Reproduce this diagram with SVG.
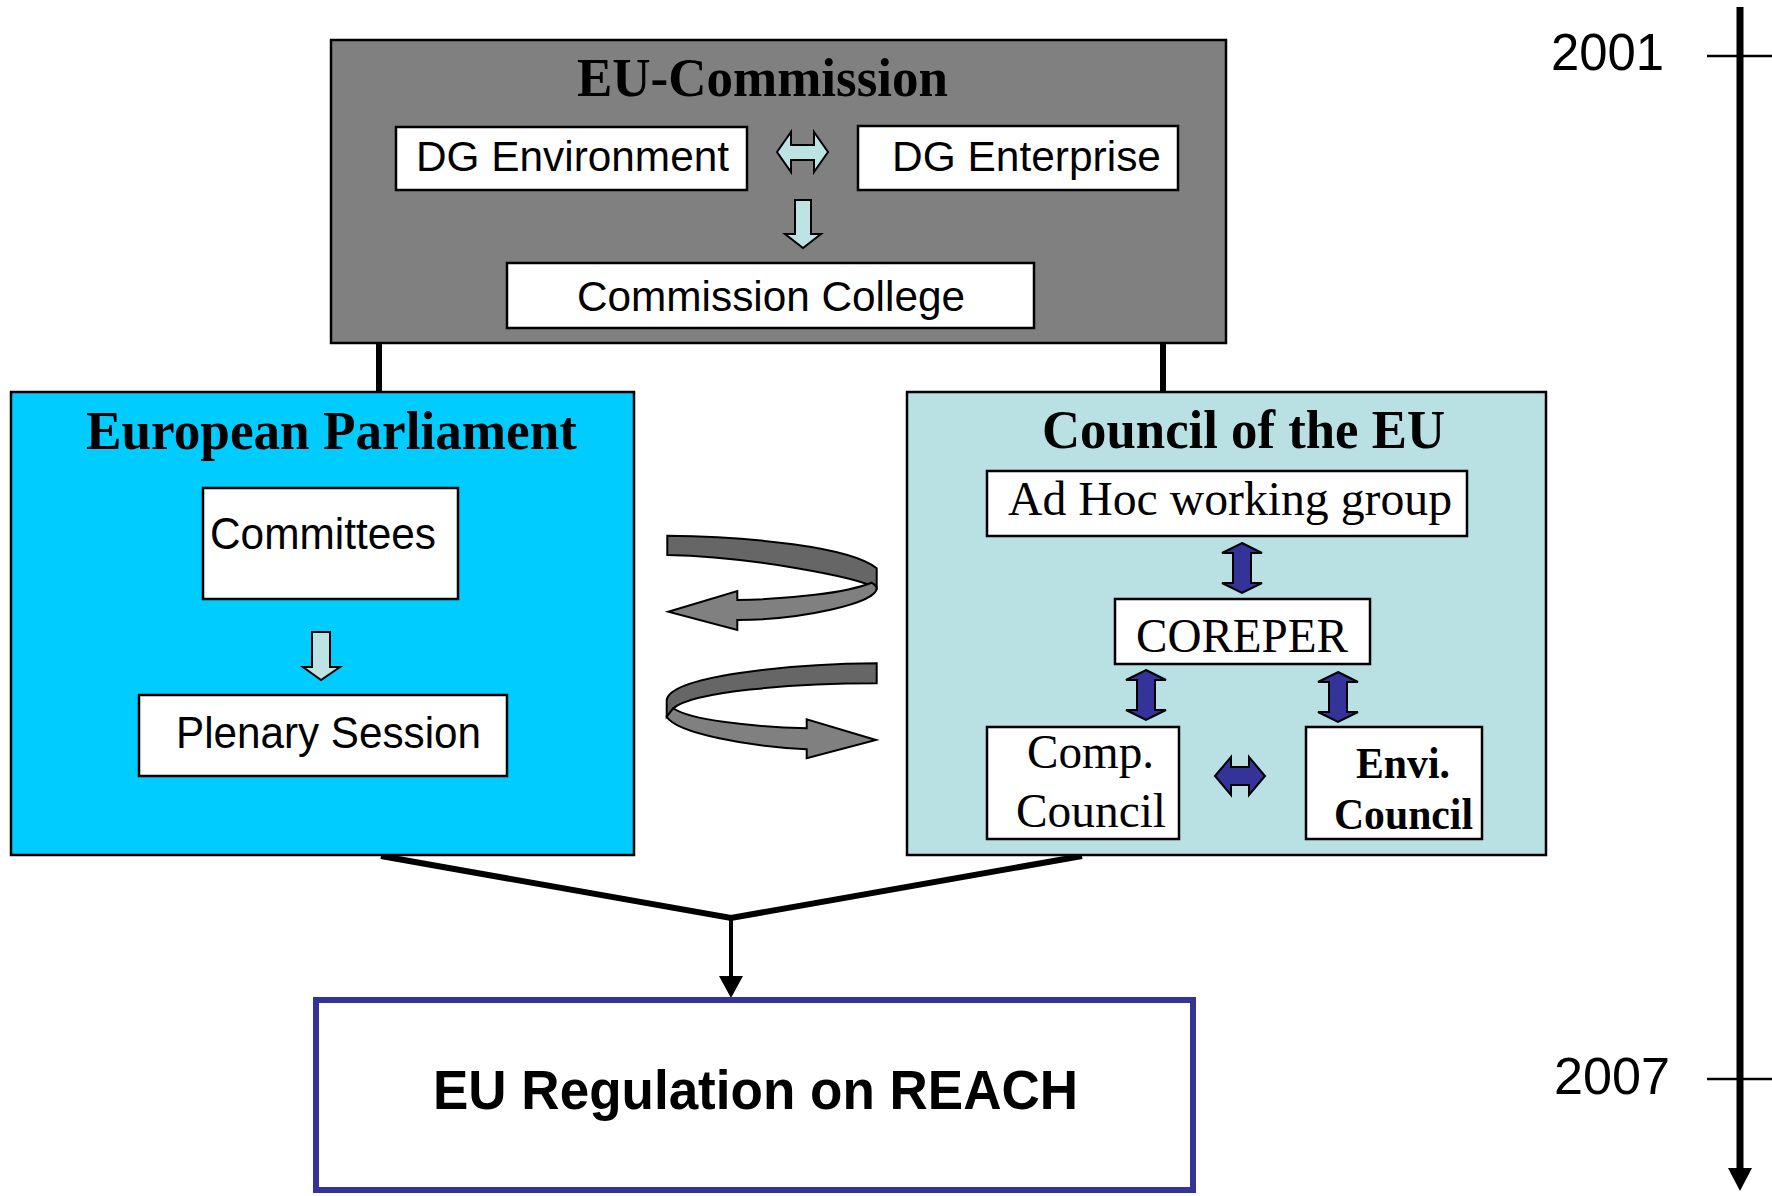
<svg xmlns="http://www.w3.org/2000/svg" width="1772" height="1196" viewBox="0 0 1772 1196">
<defs>
<style>
.box{fill:#ffffff;stroke:#000000;stroke-width:2.5}
.sans{font-family:"Liberation Sans",Arial,sans-serif;fill:#000}
.serif{font-family:"Liberation Serif","Times New Roman",serif;fill:#000}
.title{font-family:"Liberation Serif","Times New Roman",serif;font-weight:bold;font-size:54px;fill:#000}
.light{fill:#BDE3E5;stroke:#000;stroke-width:2}
.navy{fill:#333399;stroke:#000;stroke-width:2}
.line{stroke:#000;fill:none}
</style>
</defs>
<rect width="1772" height="1196" fill="#ffffff"/>

<g id="connectors">
<line class="line" x1="379" y1="343" x2="379" y2="392" stroke-width="6"/>
<line class="line" x1="1163" y1="343" x2="1163" y2="392" stroke-width="6"/>
<polyline class="line" points="381,856 731,918 1082,856" stroke-width="6" stroke-linejoin="miter"/>
<path d="M731,918 L731,978" stroke="#000" stroke-width="4" fill="none"/>
<path d="M719,976 L743,976 L731,998 Z" fill="#000"/>
<g id="swirl-top">
<path d="M667.3,535.7 C750,536.7 850,546.7 876.7,568.3 L876.7,588.3 C856.7,576.7 750,556.7 667.3,555 Z" fill="#666666" stroke="#000" stroke-width="2"/>
<path d="M737.3,600 C790,599.3 846.7,592.7 871.7,582.7 C875,585 876.7,586 876.7,588.3 C876.7,603.3 800,620 737.3,620 L737.3,630 L668.3,611.7 L737.3,591 Z" fill="#808080" stroke="#000" stroke-width="2" stroke-linejoin="miter"/>
</g>
<g id="swirl-bottom">
<path d="M876.7,663.3 L876.7,683.3 C790,683.3 693.3,691.7 673.3,708.3 L666.7,716.7 L666.7,700 C670,676.7 783.3,664 876.7,663.3 Z" fill="#666666" stroke="#000" stroke-width="2"/>
<path d="M666.7,716.7 C676.7,733.3 750,746.7 806.7,749.3 L806.7,758.3 L876,740 L806.7,719.3 L806.7,728.3 C750,726.7 690,720 673.3,708.3 Z" fill="#808080" stroke="#000" stroke-width="2" stroke-linejoin="miter"/>
</g>
</g>

<g id="eu-commission">
<rect x="331" y="40" width="895" height="303" fill="#808080" stroke="#000" stroke-width="2.5"/>
<text class="title" x="577" y="96" textLength="371" lengthAdjust="spacingAndGlyphs">EU-Commission</text>
</g>
<g id="dg-environment">
<rect class="box" x="396" y="127" width="351" height="63"/>
<text class="sans" x="416" y="171" font-size="43" textLength="313" lengthAdjust="spacingAndGlyphs">DG Environment</text>
</g>
<g id="dg-enterprise">
<rect class="box" x="858" y="126" width="320" height="64"/>
<text class="sans" x="892" y="171" font-size="43" textLength="269" lengthAdjust="spacingAndGlyphs">DG Enterprise</text>
</g>
<g id="commission-arrows">
<path class="light" d="M777,152 L791,132 L791,145 L814,145 L814,132 L828,152 L814,172 L814,160 L791,160 L791,172 Z"/>
<path class="light" d="M795,200 L811,200 L811,234 L821,234 L803,248 L785,234 L795,234 Z"/>
</g>
<g id="commission-college">
<rect class="box" x="507" y="263" width="527" height="65"/>
<text class="sans" x="577" y="311" font-size="43" textLength="388" lengthAdjust="spacingAndGlyphs">Commission College</text>
</g>

<g id="european-parliament">
<rect x="11" y="392" width="623" height="463" fill="#00CCFF" stroke="#000" stroke-width="2.5"/>
<text class="title" x="86" y="449" textLength="491" lengthAdjust="spacingAndGlyphs">European Parliament</text>
</g>
<g id="committees">
<rect class="box" x="203" y="488" width="255" height="111"/>
<text class="sans" x="210" y="549" font-size="44" textLength="226" lengthAdjust="spacingAndGlyphs">Committees</text>
</g>
<path id="ep-arrow" class="light" d="M312,632 L330,632 L330,667 L340,667 L321,680 L303,667 L312,667 Z"/>
<g id="plenary-session">
<rect class="box" x="139" y="695" width="368" height="81"/>
<text class="sans" x="176" y="748" font-size="44" textLength="305" lengthAdjust="spacingAndGlyphs">Plenary Session</text>
</g>

<g id="council-of-the-eu">
<rect x="907" y="392" width="639" height="463" fill="#B9E0E3" stroke="#000" stroke-width="2.5"/>
<text class="title" x="1042" y="448" textLength="403" lengthAdjust="spacingAndGlyphs">Council of the EU</text>
</g>
<g id="ad-hoc">
<rect class="box" x="987" y="471" width="480" height="65"/>
<text class="serif" x="1008" y="515" font-size="48" textLength="444" lengthAdjust="spacingAndGlyphs">Ad Hoc working group</text>
</g>
<g id="coreper">
<rect class="box" x="1115" y="599" width="255" height="65"/>
<text class="serif" x="1136" y="652" font-size="48" textLength="212" lengthAdjust="spacingAndGlyphs">COREPER</text>
</g>
<g id="comp-council">
<rect class="box" x="987" y="727" width="192" height="112"/>
<text class="serif" x="1027" y="768" font-size="48" textLength="127" lengthAdjust="spacingAndGlyphs">Comp.</text>
<text class="serif" x="1016" y="827" font-size="48" textLength="150" lengthAdjust="spacingAndGlyphs">Council</text>
</g>
<g id="envi-council">
<rect class="box" x="1306" y="727" width="176" height="112"/>
<text class="serif" x="1356" y="778" font-size="45" font-weight="bold" textLength="94" lengthAdjust="spacingAndGlyphs">Envi.</text>
<text class="serif" x="1334" y="829" font-size="45" font-weight="bold" textLength="139" lengthAdjust="spacingAndGlyphs">Council</text>
</g>
<g id="council-arrows">
<path class="navy" d="M1242,543 L1262,553 L1251,553 L1251,583 L1262,583 L1242,593 L1222,583 L1233,583 L1233,553 L1222,553 Z"/>
<path class="navy" d="M1146,670 L1166,680 L1155,680 L1155,710 L1166,710 L1146,720 L1126,710 L1137,710 L1137,680 L1126,680 Z"/>
<path class="navy" d="M1338,672 L1358,682 L1347,682 L1347,712 L1358,712 L1338,722 L1318,712 L1329,712 L1329,682 L1318,682 Z"/>
<path class="navy" d="M1215,776 L1231,757 L1231,767 L1249,767 L1249,757 L1265,776 L1249,795 L1249,785 L1231,785 L1231,795 Z"/>
</g>

<g id="eu-regulation">
<rect x="316" y="1000" width="877" height="190" fill="#ffffff" stroke="#333399" stroke-width="6"/>
<text class="sans" x="433" y="1109" font-size="55" font-weight="bold" textLength="645" lengthAdjust="spacingAndGlyphs">EU Regulation on REACH</text>
</g>

<g id="timeline">
<line x1="1740" y1="7" x2="1740" y2="1170" stroke="#000" stroke-width="7"/>
<path d="M1728,1168 L1752,1168 L1740,1191 Z" fill="#000"/>
<line x1="1707" y1="56" x2="1772" y2="56" stroke="#000" stroke-width="2.5"/>
<line x1="1707" y1="1079" x2="1772" y2="1079" stroke="#000" stroke-width="2.5"/>
<text class="sans" x="1551" y="70" font-size="51" textLength="113" lengthAdjust="spacingAndGlyphs">2001</text>
<text class="sans" x="1554" y="1094" font-size="51" textLength="116" lengthAdjust="spacingAndGlyphs">2007</text>
</g>
</svg>
